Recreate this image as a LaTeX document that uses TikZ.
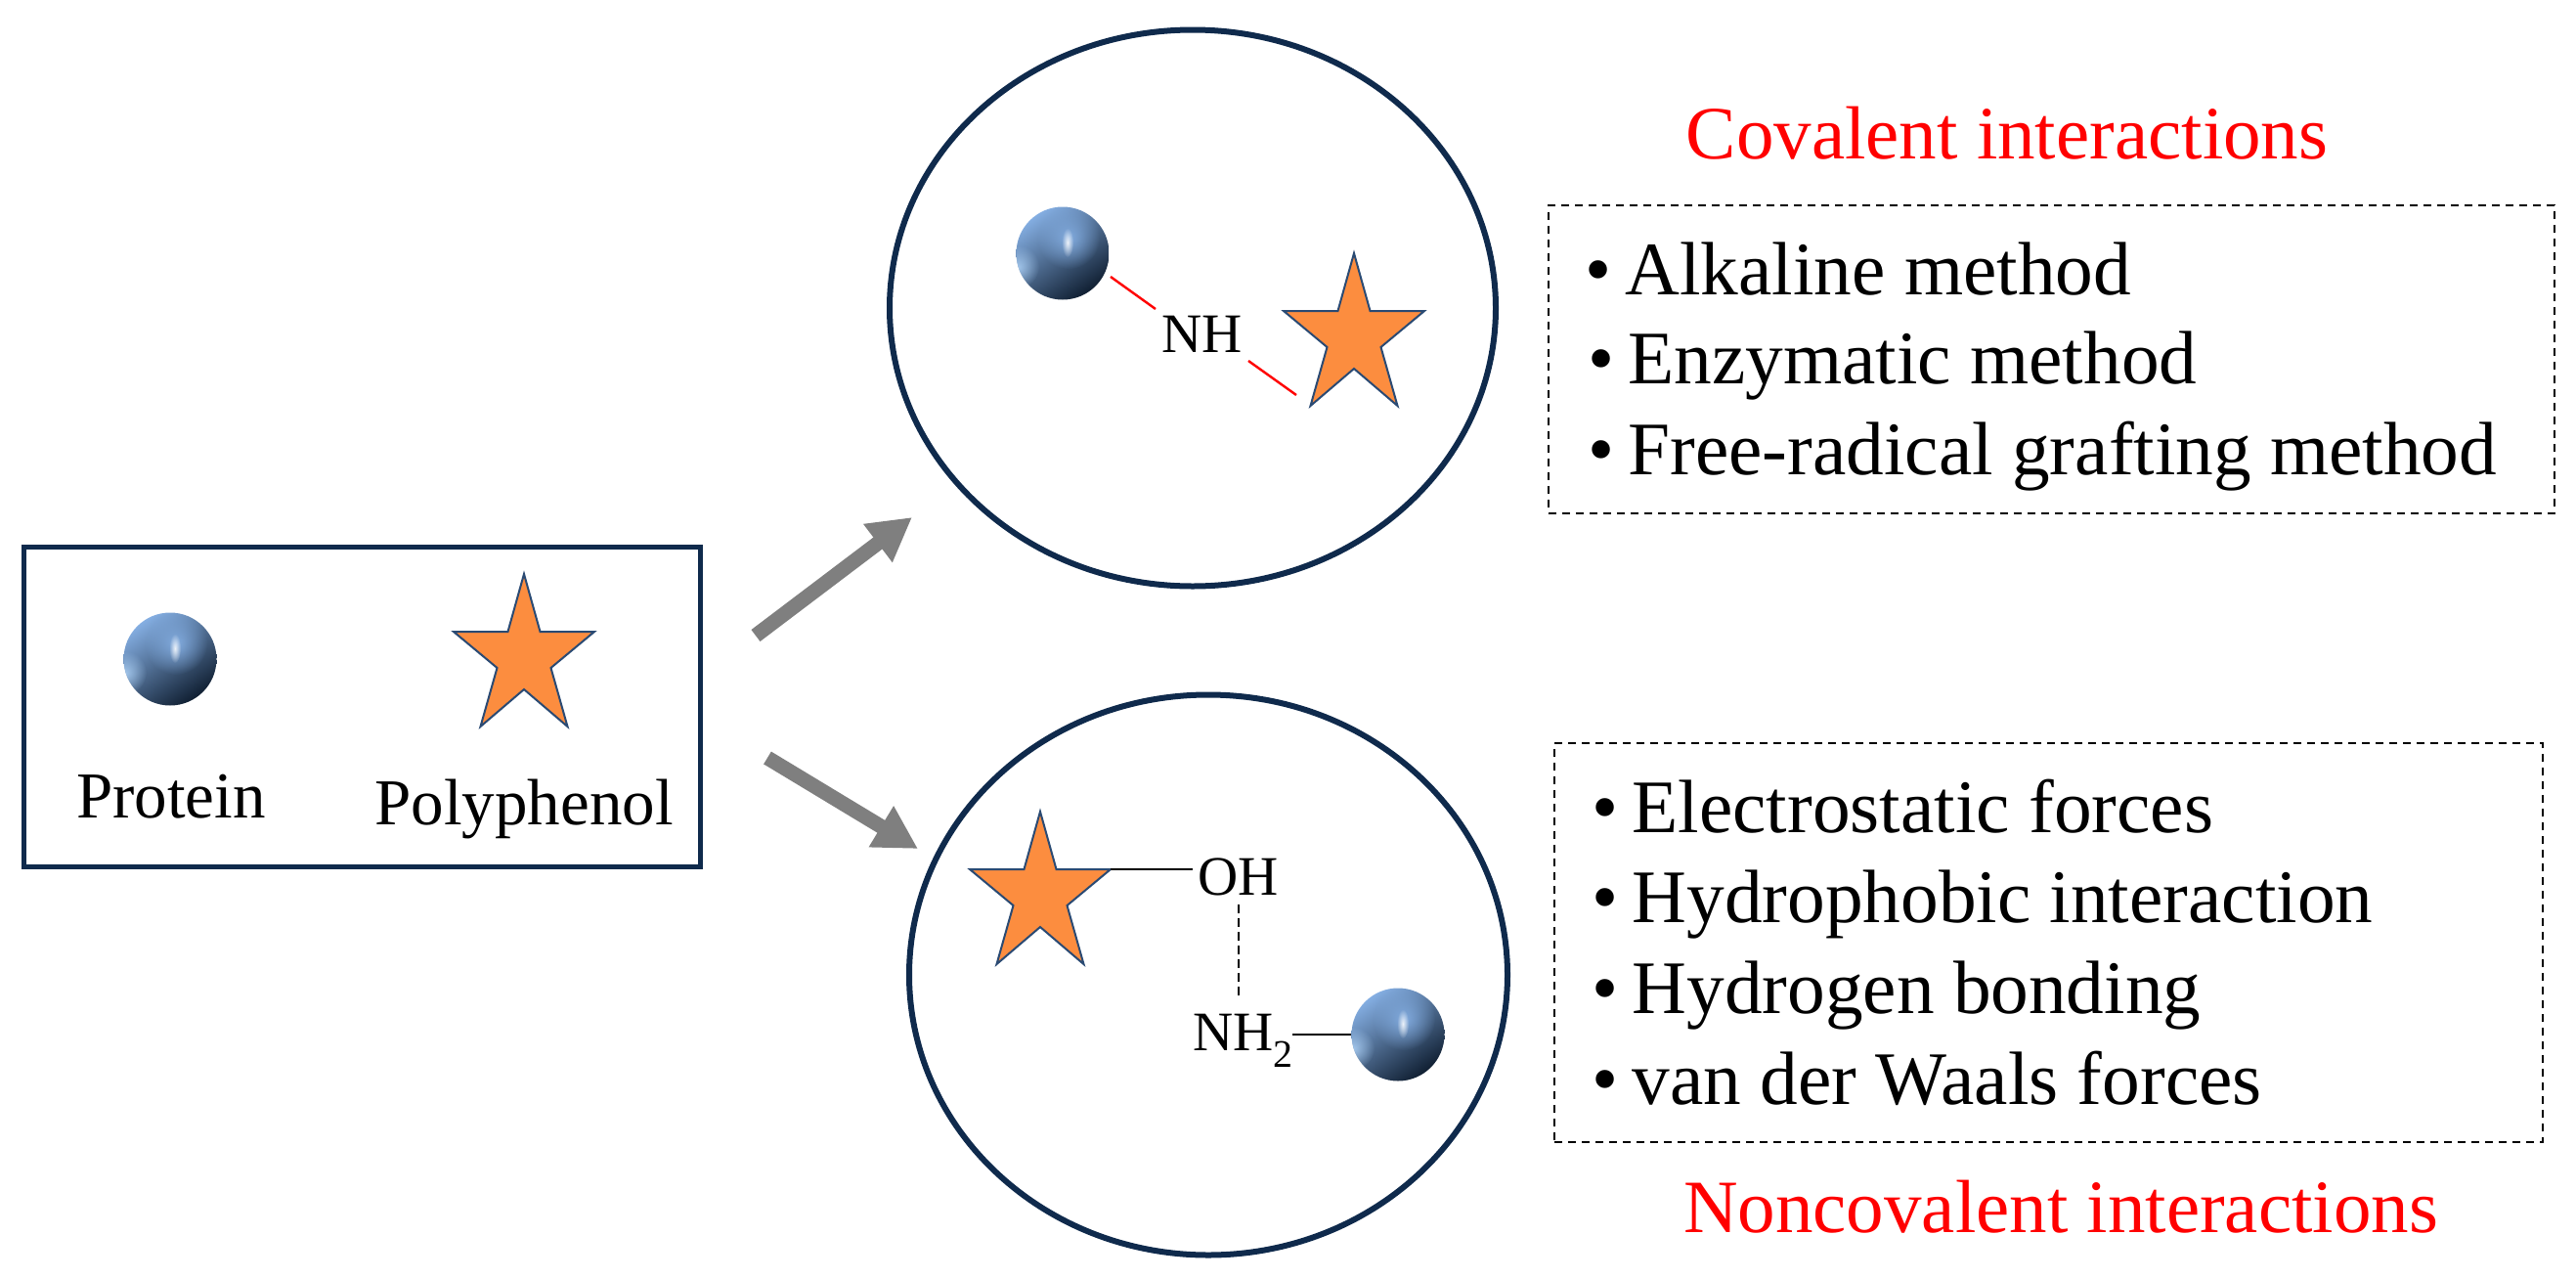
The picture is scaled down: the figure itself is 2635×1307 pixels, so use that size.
\documentclass[tikz,border=0pt]{standalone}
\usepackage{fontspec}
\setmainfont{Liberation Serif}
\usetikzlibrary{fadings,arrows.meta,shapes.geometric}
\definecolor{navy}{HTML}{0F2A4C}
\definecolor{starfill}{HTML}{FC8D3F}
\definecolor{starline}{HTML}{2A4A73}
\definecolor{arrowgray}{HTML}{7F7F7F}
\definecolor{ballhi}{HTML}{84AEE2}
\definecolor{ballmid}{HTML}{5F83AD}
\definecolor{balldk}{HTML}{101F32}
\definecolor{ballrim}{HTML}{A9CDF2}
\tikzfading[name=glowfade, inner color=transparent!0, outer color=transparent!100]
\newcommand{\bul}{•\hspace{-5pt} }
\tikzset{
  x=1pt, y=-1pt,
  pstar/.pic={
    \fill[starfill, draw=starline, line width=2pt, line join=miter]
      (0,2) -- (16.5,61) -- (72,61) -- (27.5,98) -- (44.5,158) -- (0,120)
      -- (-44.5,158) -- (-27.5,98) -- (-72,61) -- (-16.5,61) -- cycle;
    \coordinate (-east) at (72,61);
  },
  ball/.style={circle, minimum size=95pt, inner sep=0pt, path picture={
    \shade[top color=ballhi, middle color=ballmid, bottom color=balldk, shading angle=35]
      (path picture bounding box.south west) rectangle (path picture bounding box.north east);
    \fill[ballrim, opacity=.9, path fading=glowfade] ([shift={(-46,14)}]path picture bounding box.center) circle (22pt);
    \fill[ballhi, opacity=.95, path fading=glowfade] ([shift={(6,-16)}]path picture bounding box.center) circle (32pt);
    \fill[white, opacity=.85, path fading=glowfade, rotate=-25] ([shift={(5,-11)}]path picture bounding box.center) ellipse (6pt and 15pt);
  }},
  ring/.style={draw=navy, line width=6pt, ellipse, inner sep=0pt},
  dashbox/.style={draw=black, line width=1.8pt, dash pattern=on 8pt off 6pt, inner sep=0pt},
  bignote/.style={inner sep=0pt, anchor=base west, font=\fontsize{77.3}{90}\selectfont},
  title/.style={inner sep=0pt, anchor=base, text=red, font=\fontsize{77}{90}\selectfont},
  legendtext/.style={inner sep=0pt, anchor=base, font=\fontsize{67}{80}\selectfont},
  chem/.style={inner sep=0pt, anchor=base west, font=\fontsize{57}{68}\selectfont},
  grayarrow/.style={draw=arrowgray, line width=15pt, -{Triangle[length=44pt,width=46pt]}},
  redbond/.style={draw=red, line width=2.4pt},
  bond/.style={draw=black, line width=2.4pt},
  hbond/.style={draw=black, line width=2pt, dash pattern=on 9pt off 5pt},
}
\begin{document}
\begin{tikzpicture}
\useasboundingbox (0,0) rectangle (2635,1307);
% legend
\node[draw=navy, line width=5pt, minimum width=692pt, minimum height=327pt, inner sep=0pt] (legend) at (370.5,723) {};
\node[ball] (legball) at (174,674) {};
\pic (legstar) at (536,585) {pstar};
\node[legendtext] (legprotein) at (175,836) {Protein};
\node[legendtext] (legpoly) at (536,843) {Polyphenol};
% circles
\node[ring, minimum width=620pt, minimum height=569pt] (topc) at (1220,315) {};
\node[ring, minimum width=612pt, minimum height=573pt] (botc) at (1236,997) {};
% arrows
\coordinate (upfrom) at (773,650);
\coordinate (upto) at (933,529);
\coordinate (downfrom) at (785,775);
\coordinate (downto) at (939,868);
\draw[grayarrow] (upfrom) -- (upto);
\draw[grayarrow] (downfrom) -- (downto);
% top circle contents
\node[ball] (topball) at (1087,259) {};
\pic (topstar) at (1385,257) {pstar};
\node[chem] (nh) at (1188,360) {NH};
\coordinate (r1a) at (1136,283);
\coordinate (r1b) at (1182,316);
\coordinate (r2a) at (1277,369);
\coordinate (r2b) at (1326,404);
\draw[redbond] (r1a) -- (r1b);
\draw[redbond] (r2a) -- (r2b);
% bottom circle contents
\pic (botstar) at (1064,828) {pstar};
\node[chem] (oh) at (1225,915) {OH};
\node[chem] (nh2) at (1220,1074) {NH\textsubscript{2}};
\node[ball] (botball) at (1430,1058) {};
\coordinate (ohstub) at (1220,889);
\coordinate (hb1) at (1267,925);
\coordinate (hb2) at (1267,1022);
\coordinate (nhstub) at (1322,1058);
\draw[bond] (botstar-east) -- (ohstub);
\draw[hbond] (hb1) -- (hb2);
\draw[bond] (nhstub) -- (botball.west);
% right side
\node[title] (covt) at (2053,162) {Covalent interactions};
\node[minimum width=1029pt, minimum height=315pt, dashbox] (box1) at (2098.5,367.5) {};
\node[bignote] (a1) at (1621,301) {\bul Alkaline method};
\node[bignote] (a2) at (1624,392) {\bul Enzymatic method};
\node[bignote] (a3) at (1624,485) {\bul Free-radical grafting method};
\node[minimum width=1011pt, minimum height=408pt, dashbox] (box2) at (2095.5,964) {};
\node[bignote] (b1) at (1628,851) {\bul Electrostatic forces};
\node[bignote] (b2) at (1628,943) {\bul Hydrophobic interaction};
\node[bignote] (b3) at (1628,1036) {\bul Hydrogen bonding};
\node[bignote] (b4) at (1628,1129) {\bul van der Waals forces};
\node[title] (noncovt) at (2108,1260) {Noncovalent interactions};
\end{tikzpicture}
\end{document}
